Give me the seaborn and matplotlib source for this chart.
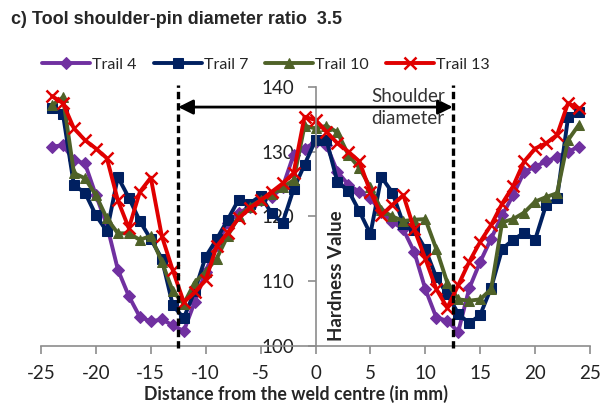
import numpy as np
import pandas as pd
import matplotlib
matplotlib.use("Agg")
import matplotlib.pyplot as plt
import seaborn as sns

sns.set_theme(style="white")
plt.rcParams['font.family'] = ['Lato', 'DejaVu Sans']

distance = list(range(-24, 25))
trail4 = [130.8, 131.0, 128.7, 128.2, 123.3, 118.7, 111.8, 107.7, 104.5, 103.8,
          104.1, 103.2, 102.3, 106.8, 111.5, 115.6, 119.0, 120.5, 121.5, 122.5,
          123.0, 124.5, 129.5, 130.5, 131.5, 131.0, 126.9, 124.9, 123.8, 122.8,
          120.7, 119.2, 118.0, 114.5, 108.8, 104.4, 103.9, 102.2, 108.9, 113.0,
          116.6, 120.2, 123.3, 126.9, 127.7, 128.5, 129.2, 130.0, 130.8]
trail7 = [136.8, 135.8, 124.8, 123.7, 120.2, 117.7, 126.1, 122.9, 119.3, 116.5,
          113.5, 106.3, 104.3, 108.5, 113.8, 116.5, 119.5, 122.6, 122.0, 123.2,
          120.5, 119.0, 124.2, 128.0, 131.8, 131.8, 125.3, 124.0, 120.8, 117.3,
          126.1, 123.7, 118.9, 117.9, 115.0, 110.6, 108.0, 105.0, 103.5, 104.8,
          109.0, 115.0, 116.4, 117.5, 116.4, 121.8, 122.8, 135.3, 136.2]
trail10 = [137.2, 138.4, 126.7, 125.9, 123.3, 119.7, 117.4, 117.4, 116.4, 117.0,
           113.0, 108.5, 106.5, 109.8, 111.5, 113.5, 117.0, 120.0, 121.5, 122.5,
           123.5, 124.5, 125.6, 134.0, 133.6, 134.0, 133.0, 129.5, 127.5, 124.5,
           121.0, 120.0, 119.3, 119.5, 119.6, 115.0, 109.8, 107.2, 107.0, 107.2,
           108.8, 119.1, 119.6, 120.6, 122.3, 123.0, 123.6, 131.8, 134.2]
trail13 = [138.6, 137.5, 133.6, 131.8, 130.5, 129.0, 122.5, 118.2, 123.8, 126.0,
           117.0, 111.7, 106.8, 108.3, 110.2, 115.4, 117.5, 119.7, 121.3, 122.5,
           123.8, 125.1, 126.7, 135.4, 134.9, 133.1, 131.3, 130.0, 128.5, 123.8,
           120.2, 121.8, 123.3, 118.0, 113.5, 108.8, 105.9, 109.4, 113.0, 116.1,
           118.7, 122.0, 124.7, 128.5, 130.5, 131.3, 132.6, 137.5, 136.7]

series_names = ["Trail 4", "Trail 7", "Trail 10", "Trail 13"]
series_values = [trail4, trail7, trail10, trail13]
colors = ["#7030A0", "#002060", "#4F6228", "#E00000"]
markers = ["D", "s", "^", "x"]
msizes = [6, 7, 7.5, 9]

xticks = [-25, -20, -15, -10, -5, 0, 5, 10, 15, 20, 25]
yticks = [100, 110, 120, 130, 140]

df = pd.DataFrame({"Distance": distance})
for n, v in zip(series_names, series_values):
    df[n] = v

fig = plt.figure(figsize=(6.09, 4.08), dpi=100)
W, H = 609, 408
ax = fig.add_axes([41 / W, 1 - 346 / H, (590 - 41) / W, (346 - 87) / H])

for n, c, m, ms in zip(series_names, colors, markers, msizes):
    kw = dict(marker=m, markersize=ms, markeredgecolor=c, markerfacecolor=c)
    if m == "x":
        kw["markeredgewidth"] = 1.8
    sns.lineplot(data=df, x="Distance", y=n, color=c, linewidth=2.8,
                 label=n, ax=ax, **kw)

ax.set_xlim(-25, 25)
ax.set_ylim(100, 140)
ax.set_xticks(xticks)
ax.set_yticks(yticks)
ax.set_xticklabels([str(t) for t in xticks])
ax.set_yticklabels([str(t) for t in yticks])

grey = "#8C8C8C"
for s in ["top", "right"]:
    ax.spines[s].set_visible(False)
ax.spines["left"].set_position(("data", 0))
ax.spines["left"].set_color(grey)
ax.spines["bottom"].set_color(grey)
ax.spines["left"].set_linewidth(1.2)
ax.spines["bottom"].set_linewidth(1.2)
ax.tick_params(axis="x", which="both", direction="out", length=6, width=1.2,
               color=grey, labelsize=13.5, labelcolor="#222222", pad=8,
               bottom=True)
ax.tick_params(axis="y", which="both", direction="out", length=6, width=1.2,
               color=grey, labelsize=13.5, labelcolor="#222222", pad=9,
               left=True)
ax.set_xlabel("")
ax.set_ylabel("")
fig.text(296 / W, 1 - 394 / H, "Distance from the weld centre (in mm)",
         fontsize=12.8, fontweight="bold", ha="center", va="center")
ax.text(1.9, 110.8, "Hardness Value", rotation=90, ha="center", va="center",
        fontsize=13.5, fontweight="bold")

# shoulder diameter markers
for xv in (-12.5, 12.5):
    ax.plot([xv, xv], [99.7, 140.3], color="black", linestyle=(0, (2.2, 1.2)),
            linewidth=2.4, clip_on=False, zorder=5)
ax.annotate("", xy=(-12.5, 136.9), xytext=(12.5, 136.9),
            arrowprops=dict(arrowstyle="<|-|>", color="black", lw=2.0,
                            mutation_scale=22, shrinkA=0, shrinkB=0), zorder=6)
ax.text(8.4, 136.9, "Shoulder\ndiameter", ha="center", va="center",
        fontsize=13.5, color="#333333", linespacing=1.35, zorder=7)

leg = ax.legend(loc="center left", bbox_to_anchor=(42 / W, 1 - 65 / H),
                bbox_transform=fig.transFigure, ncol=4, frameon=False,
                fontsize=11.5, handlelength=3.0, handletextpad=0.15,
                columnspacing=1.05, borderpad=0, borderaxespad=0)

fig.text(11 / W, 1 - 20 / H, "c) Tool shoulder-pin diameter ratio  3.5",
         fontsize=13, fontweight="bold", family="Liberation Sans",
         ha="left", va="center")

fig.savefig("out.png", dpi=100)
